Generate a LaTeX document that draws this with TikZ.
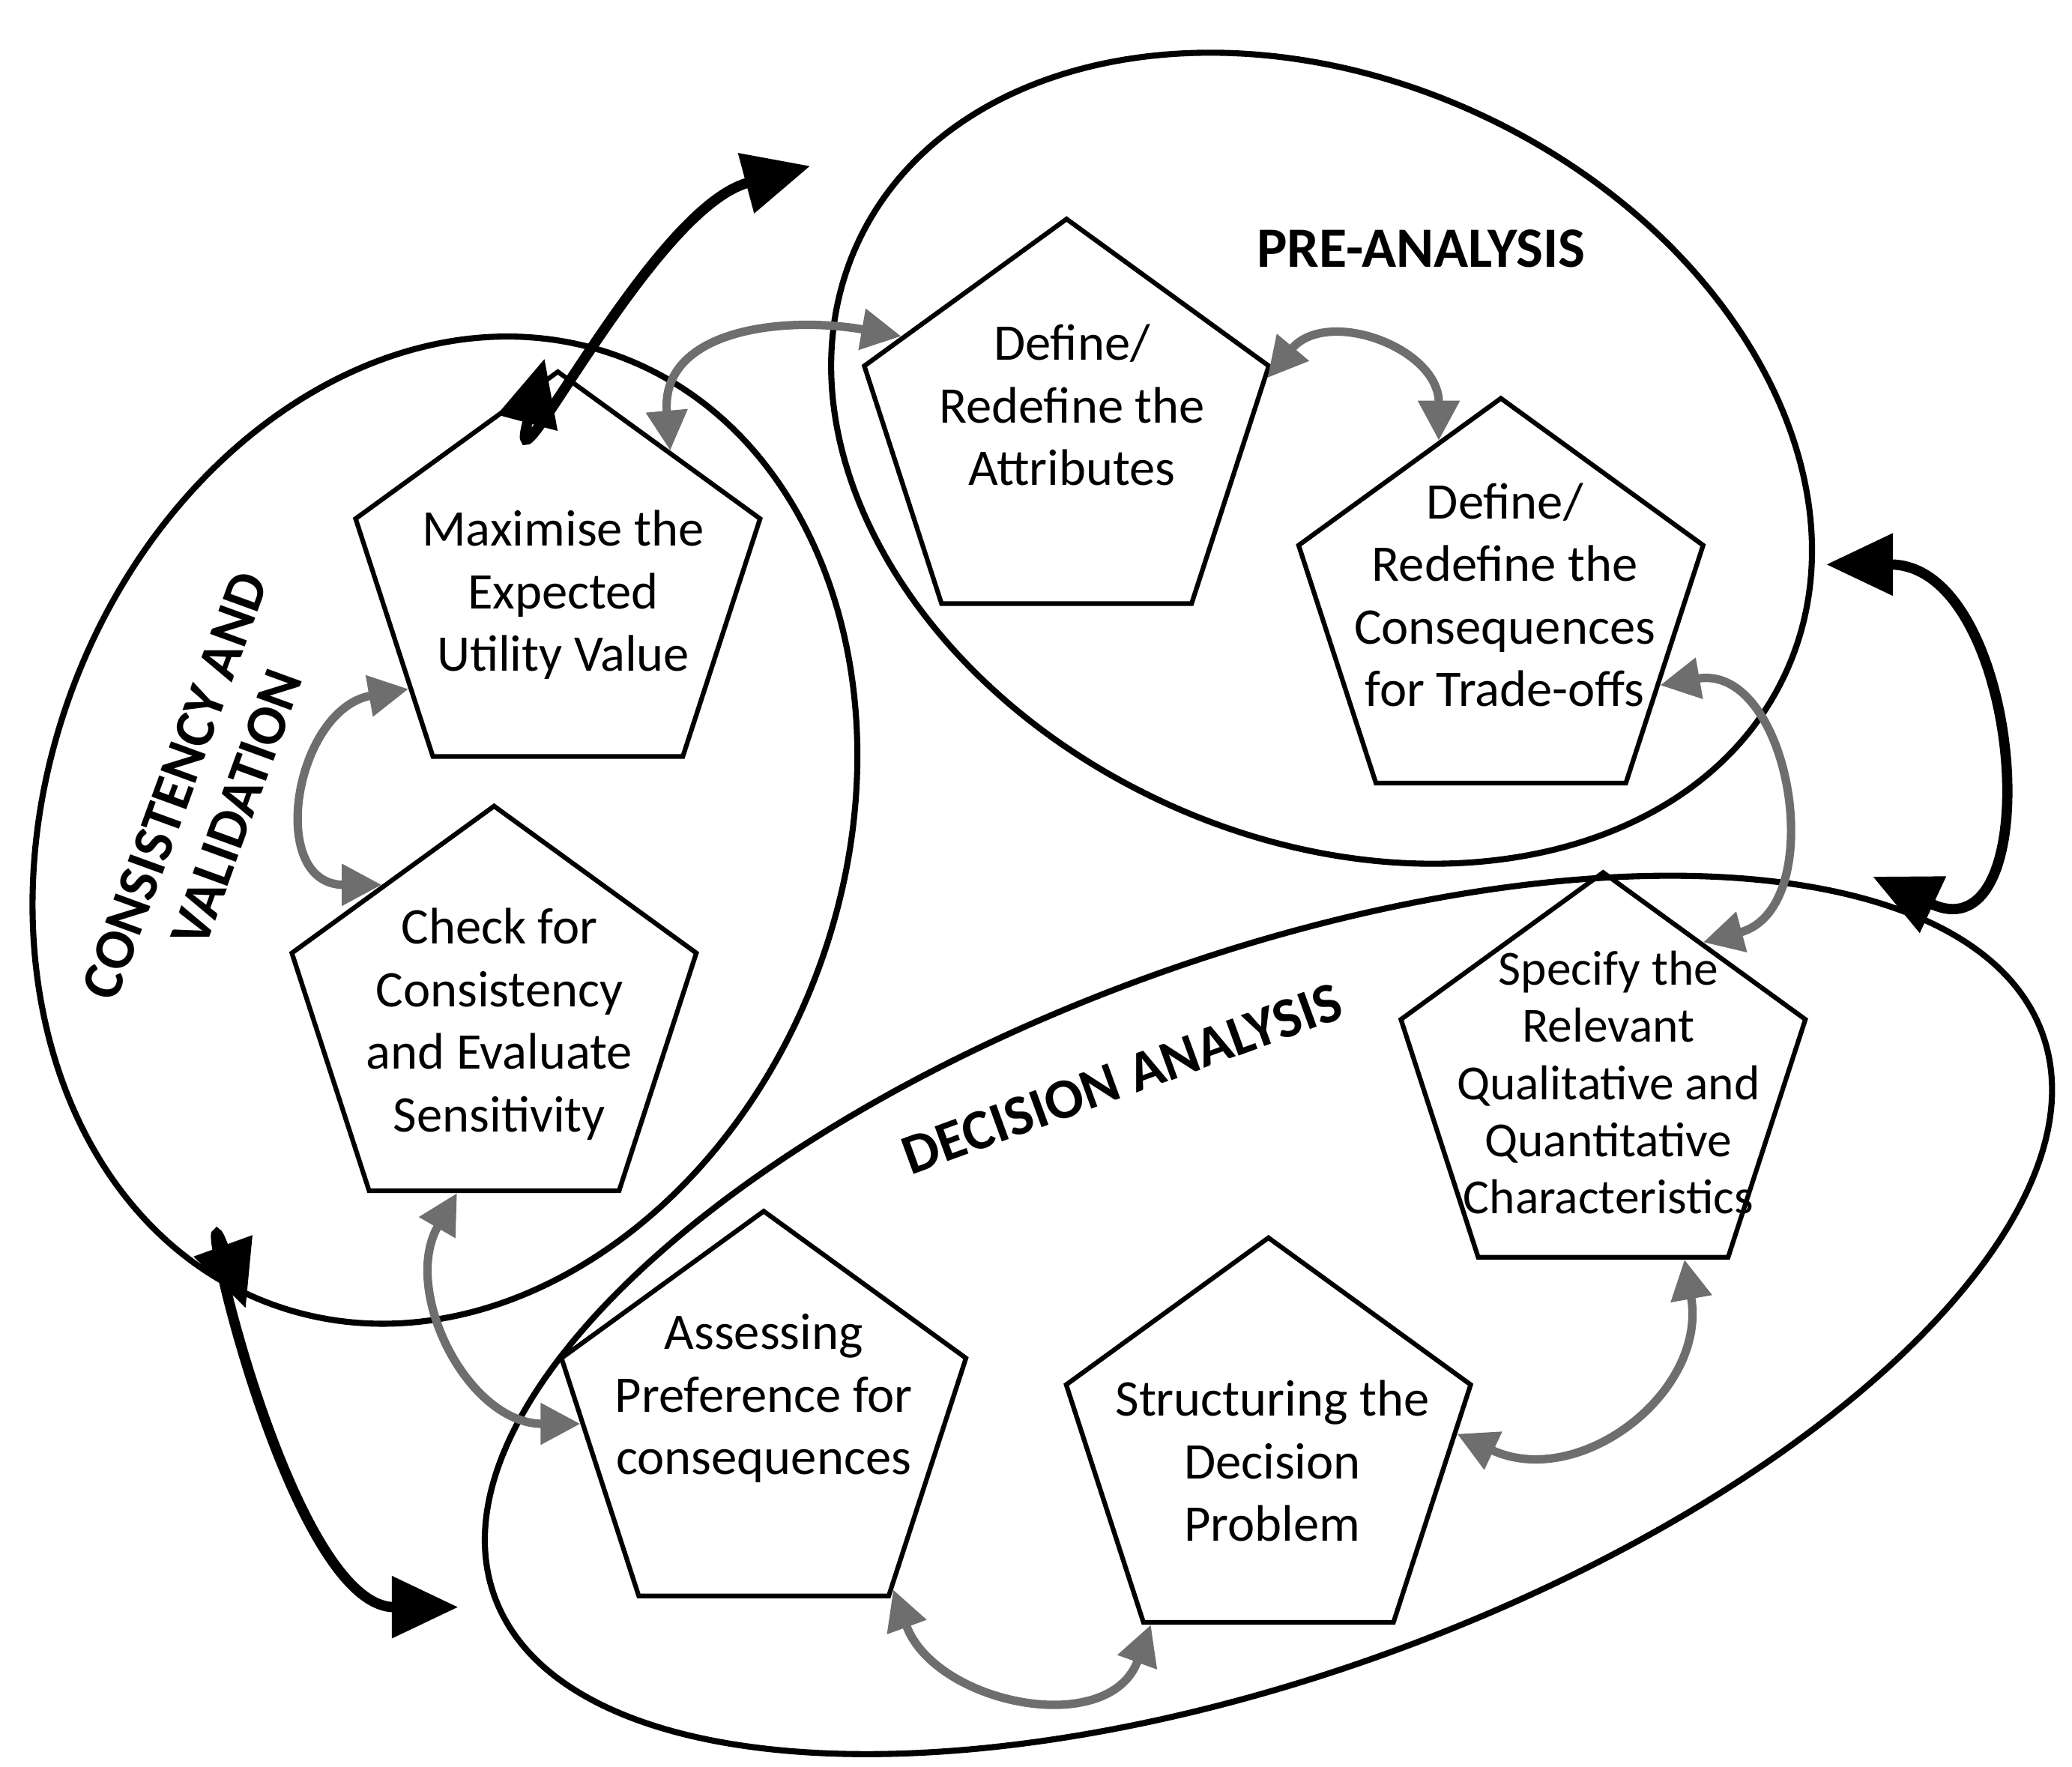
\documentclass[tikz,border=0pt]{standalone}
\usepackage{fontspec}
\setmainfont{Carlito}
\usetikzlibrary{shapes,shapes.geometric,arrows.meta}
\definecolor{arrowgray}{RGB}{110,110,110}
\tikzset{
  stepbox/.style={regular polygon,regular polygon sides=5,draw=black,line width=1pt,minimum size=3.2cm,inner sep=0pt},
  steptext/.style={align=center,font=\fontsize{11}{13.4}\selectfont},
  phase/.style={draw=black,line width=1.3pt},
  grayarrow/.style={draw=arrowgray,line width=1.8pt,{Triangle[length=0.3cm,width=0.3cm]}-{Triangle[length=0.3cm,width=0.3cm]}},
  blackarrow/.style={draw=black,line width=2.2pt,{Triangle[length=0.5cm,width=0.45cm]}-{Triangle[length=0.5cm,width=0.45cm]}},
  title/.style={font=\bfseries\fontsize{12.2}{14}\selectfont,align=center}
}
\begin{document}
\begin{tikzpicture}[x=0.01cm,y=-0.01cm]
        \useasboundingbox (0,0) rectangle (1560,1330);
        % phases
        \draw[phase,rotate around={-25:(995,345)}] (995,345) ellipse (385 and 285);
        \draw[phase,rotate around={70:(335,625)}] (335,625) ellipse (380 and 300);
        \draw[phase,rotate around={20:(955,990)}] (955,990) ellipse (620 and 270);
        \node[title] (pre) at (1070,187) {PRE-ANALYSIS};
        \node[title,rotate=70] (cons) at (155,600) {CONSISTENCY AND\\VALIDATION};
        \node[title,rotate=20] (dec) at (845,812) {DECISION ANALYSIS};
        % steps
        \node[stepbox] (max) at (420,440) {};
        \node[steptext] (max-t) at (424,448) {Maximise the\\Expected\\Utility Value};
        \node[stepbox] (check) at (372,767) {};
        \node[steptext] (check-t) at (376,771) {Check for\\Consistency\\and Evaluate\\Sensitivity};
        \node[stepbox] (defa) at (803,325) {};
        \node[steptext] (defa-t) at (807,305) {Define/\\Redefine the\\Attributes};
        \node[stepbox] (defc) at (1130,460) {};
        \node[steptext] (defc-t) at (1133,448) {Define/\\Redefine the\\Consequences\\for Trade-offs};
        \node[stepbox] (spec) at (1207,817) {};
        \node[steptext,font=\fontsize{10.5}{12.2}\selectfont] (spec-t) at (1211,815) {Specify the\\Relevant\\Qualitative and\\Quantitative\\Characteristics};
        \node[stepbox] (ass) at (575,1072) {};
        \node[steptext] (ass-t) at (575,1053) {Assessing\\Preference for\\consequences};
        \node[stepbox] (str) at (955,1092) {};
        \node[steptext] (str-t) at (958,1100) {Structuring the\\Decision\\Problem};
        % gray arrows
        \draw[grayarrow] (max.50) to[out=95,in=170,looseness=1.2] (defa.150);
        \draw[grayarrow] (defa.15) to[out=50,in=90,looseness=1.3] (defc.110);
        \draw[grayarrow] (defc.-25) to[out=10,in=15,looseness=1.3] (spec.55);
        \draw[grayarrow] (max.215) to[out=190,in=180,looseness=1.5] (check.130);
        \draw[grayarrow] (check.258) to[out=240,in=180,looseness=1.1] (ass.180);
        \draw[grayarrow] (ass.-52) to[out=-70,in=-110,looseness=1.2] (str.236);
        \draw[grayarrow] (str.5) to[out=-25,in=-80,looseness=1.2] (spec.-65);
        % black arrows
        \coordinate (ca1) at (410,270);
        \coordinate (ca2) at (610,125);
        \coordinate (cb1) at (1375,425);
        \coordinate (cb2) at (1410,660);
        \coordinate (cc1) at (185,985);
        \coordinate (cc2) at (345,1210);
        \draw[blackarrow] (ca1) to[out=-105,in=-165,looseness=1.3] (ca2);
        \draw[blackarrow] (cb1) to[out=0,in=-25,looseness=1.6] (cb2);
        \draw[blackarrow] (cc1) to[out=110,in=180,looseness=1.2] (cc2);
\end{tikzpicture}
\end{document}
